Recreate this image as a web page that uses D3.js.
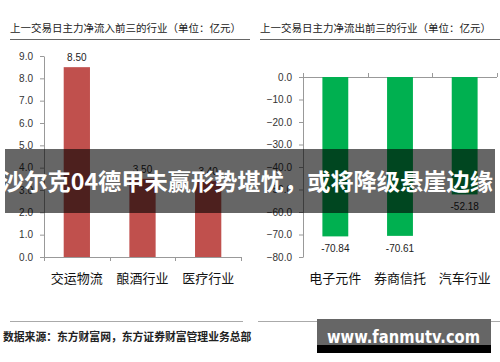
<!DOCTYPE html>
<html>
<head>
<meta charset="utf-8">
<script src="https://cdn.jsdelivr.net/npm/d3@7"></script>
<style>
  body { margin: 0; background: #fff; }
  svg text { font-family: "Noto Sans CJK SC", "Liberation Sans", sans-serif; }
</style>
</head>
<body>
<div id="chart"></div>
<script>

// data
var inflowCategories = ["交运物流", "酿酒行业", "医疗行业"];
var inflowValues = [8.50, 3.50, 3.40];
var inflowTicks = [0, 1, 2, 3, 4, 5, 6, 7, 8, 9];

var outflowCategories = ["电子元件", "券商信托", "汽车行业"];
var outflowValues = [-70.84, -70.61, -52.18];
var outflowTicks = [0, -10, -20, -30, -40, -50, -60, -70, -80];

var svg = d3.select("#chart")
  .append("svg")
    .attr("width", 500)
    .attr("height", 362);

svg.append("rect").attr("width", 500).attr("height", 362).attr("fill", "#fff");

// titles + rules
svg.append("text")
    .attr("x", 10).attr("y", 32)
    .style("font-size", "10.5px").attr("fill", "#222")
    .text("上一交易日主力净流入前三的行业（单位：亿元）");
svg.append("text")
    .attr("x", 260).attr("y", 32)
    .style("font-size", "10.5px").attr("fill", "#222")
    .text("上一交易日主力净流出前三的行业（单位：亿元）");
svg.append("line").attr("x1", 10).attr("x2", 250).attr("y1", 39.5).attr("y2", 39.5).attr("stroke", "#666");
svg.append("line").attr("x1", 260).attr("x2", 500).attr("y1", 39.5).attr("y2", 39.5).attr("stroke", "#666");
svg.append("line").attr("x1", 10).attr("x2", 243).attr("y1", 321.5).attr("y2", 321.5).attr("stroke", "#aaa");
svg.append("line").attr("x1", 258).attr("x2", 500).attr("y1", 321.5).attr("y2", 321.5).attr("stroke", "#aaa");

function drawPanel(cats, vals, ticks, opts) {
  var g = svg.append("g");

  var x = d3.scaleBand().domain(cats).range([opts.x0, opts.x1]).paddingInner(0.6).paddingOuter(0.3);
  var y = d3.scaleLinear().domain(opts.domain).range([opts.yTop, opts.yBot]);

  // y axis
  var ya = g.append("g")
      .attr("transform", "translate(" + opts.x0 + ",0)")
      .call(d3.axisLeft(y).tickValues(ticks).tickSize(4).tickSizeOuter(0)
        .tickFormat(function(d) { return d3.format(".1f")(d); }));
  ya.select(".domain").attr("stroke", "#999");
  ya.selectAll(".tick line").attr("stroke", "#999");
  ya.selectAll(".tick text").attr("fill", "#333").style("font-size", "10px")
      .style("font-family", "'Liberation Sans', sans-serif").attr("dx", "-4");

  // category axis line + ticks
  var baseY = y(0);
  g.append("line").attr("x1", opts.x0).attr("x2", opts.x1)
      .attr("y1", baseY + 0.5).attr("y2", baseY + 0.5).attr("stroke", "#999");
  var bounds = [opts.x0].concat(cats.map(function(c) { return x(c) + x.bandwidth() / 2 + x.step() / 2; }));
  g.selectAll(".ctick").data(bounds).enter().append("line")
      .attr("x1", function(d) { return Math.round(d) + 0.5; })
      .attr("x2", function(d) { return Math.round(d) + 0.5; })
      .attr("y1", baseY).attr("y2", opts.tickDown ? baseY + 4 : baseY - 4)
      .attr("stroke", "#999");

  // bars
  g.selectAll(".bar").data(vals).enter().append("rect")
      .attr("x", function(d, i) { return x(cats[i]); })
      .attr("width", x.bandwidth())
      .attr("y", function(d) { return Math.min(y(d), y(0)); })
      .attr("height", function(d) { return Math.abs(y(d) - y(0)); })
      .attr("fill", opts.color);

  // value labels
  g.selectAll(".val").data(vals).enter().append("text")
      .attr("x", function(d, i) { return x(cats[i]) + x.bandwidth() / 2; })
      .attr("y", function(d) { return d >= 0 ? y(d) - 6 : y(d) + 16; })
      .attr("text-anchor", "middle")
      .style("font-size", "10px")
      .style("font-family", "'Liberation Sans', sans-serif")
      .attr("fill", "#222")
      .text(function(d) { return d.toFixed(2); });

  // category labels
  g.selectAll(".cat").data(cats).enter().append("text")
      .attr("x", function(d) { return x(d) + x.bandwidth() / 2; })
      .attr("y", opts.labelY)
      .attr("text-anchor", "middle")
      .style("font-size", "13px")
      .attr("fill", "#111")
      .text(function(d) { return d; });
}

drawPanel(inflowCategories, inflowValues, inflowTicks,
  {x0: 44, x1: 241, domain: [9, 0], yTop: 56, yBot: 257, color: "#C0504D", labelY: 283, tickDown: true});
drawPanel(outflowCategories, outflowValues, outflowTicks,
  {x0: 303, x1: 497, domain: [0, -80], yTop: 77, yBot: 257, color: "#00B050", labelY: 283, tickDown: false});

// overlay banner
svg.append("rect")
    .attr("x", 5).attr("y", 149).attr("width", 490).attr("height", 64)
    .attr("fill", "rgba(0,0,0,0.6)");
svg.append("text")
    .attr("x", 1).attr("y", 190)
    .attr("textLength", 492).attr("lengthAdjust", "spacingAndGlyphs")
    .style("font-size", "23px").style("font-weight", "bold")
    .attr("fill", "#fff")
    .text("沙尔克04德甲未赢形势堪忧，或将降级悬崖边缘");

// source
svg.append("text")
    .attr("x", 3).attr("y", 341)
    .style("font-size", "10.8px").style("font-weight", "bold")
    .attr("fill", "#222")
    .text("数据来源：东方财富网，东方证券财富管理业务总部");

// watermark
svg.append("rect").attr("x", 317).attr("y", 319).attr("width", 174).attr("height", 34).attr("fill", "#666");
svg.append("rect").attr("x", 317).attr("y", 345).attr("width", 174).attr("height", 8).attr("fill", "#000");
svg.append("text")
    .attr("x", 327).attr("y", 343)
    .attr("textLength", 153).attr("lengthAdjust", "spacingAndGlyphs")
    .style("font-size", "18px").style("font-weight", "bold")
    .style("font-family", "'DejaVu Sans', sans-serif")
    .attr("fill", "#fff")
    .text("www.fanmutv.com");

</script>
</body>
</html>
